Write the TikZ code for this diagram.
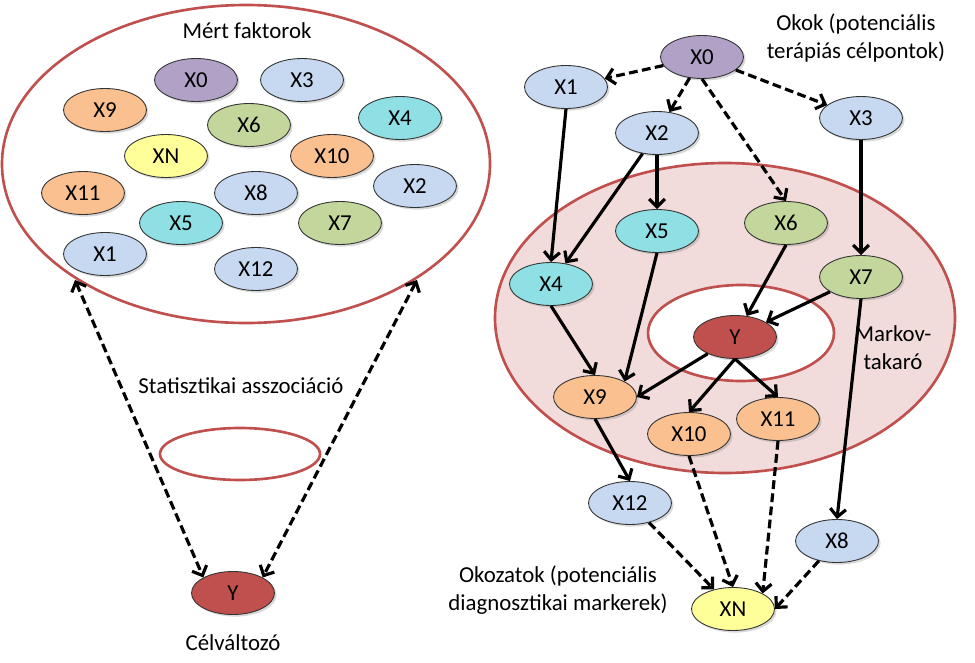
\documentclass[tikz,border=0pt]{standalone}
\usepackage{fontspec}
\setmainfont{Carlito}
\usetikzlibrary{positioning, shapes.geometric, arrows.meta, shadows}

\definecolor{ringred}{HTML}{C0504D}
\definecolor{blanket}{HTML}{F2DCDB}
\definecolor{cpurple}{HTML}{B2A1C7}
\definecolor{cblue}{HTML}{C6D9F1}
\definecolor{corange}{HTML}{FAC090}
\definecolor{cteal}{HTML}{8EE0E4}
\definecolor{cgreen}{HTML}{C3D69B}
\definecolor{cyellow}{HTML}{FFFF99}
\definecolor{cred}{HTML}{C0504D}

\begin{document}
\begin{tikzpicture}[x=0.02cm, y=-0.02cm, ->, >={Straight Barb[length=4.5pt,width=9pt]},
    line width=1.8pt, font=\fontsize{13}{16}\selectfont,
    var/.style={ellipse, draw=black!80, line width=0.5pt, minimum width=1.66cm, minimum height=0.86cm, inner sep=0pt,
        drop shadow={opacity=0.3, shadow xshift=1.2pt, shadow yshift=-1.2pt}},
    root/.style={var, fill=cpurple},
    plain/.style={var, fill=cblue},
    mid/.style={var, fill=cteal},
    fx/.style={var, fill=cgreen},
    eff/.style={var, fill=corange},
    sink/.style={var, fill=cyellow},
    target/.style={var, fill=cred},
    ring/.style={draw=ringred, line width=1.5pt},
    dsh/.style={dash pattern=on 5pt off 2.5pt},
    label/.style={align=center}]
    \useasboundingbox (0,0) rectangle (975,663);

    % Rings
    \draw[ring, -] (246,164) ellipse [x radius=244, y radius=159];
    \draw[ring, -] (240,454) ellipse [x radius=80, y radius=26];
    \draw[ring, -, fill=blanket] (725,318) ellipse [x radius=230, y radius=155];
    \draw[ring, -, fill=white] (741,333) ellipse [x radius=93, y radius=48];

    % Measured factors
    \node[root]   (l0)  at (196,80)  {X0};
    \node[plain]  (l3)  at (302,80)  {X3};
    \node[eff]    (l9)  at (105,110) {X9};
    \node[fx]     (l6)  at (249,125) {X6};
    \node[mid]    (l4)  at (400,118) {X4};
    \node[sink]   (lN)  at (166,156) {XN};
    \node[eff]    (l10) at (332,156) {X10};
    \node[eff]    (l11) at (83,193)  {X11};
    \node[plain]  (l8)  at (256,193) {X8};
    \node[plain]  (l2)  at (415,186) {X2};
    \node[mid]    (l5)  at (181,223) {X5};
    \node[fx]     (l7)  at (340,223) {X7};
    \node[plain]  (l1)  at (105,254) {X1};
    \node[plain]  (l12) at (256,269) {X12};
    \node[target] (Yl)  at (233,593) {Y};
    \coordinate (la) at (75,280);
    \coordinate (lb) at (417,280);

    % Causal graph
    \node[root]   (X0)  at (702,57)  {X0};
    \node[plain]  (X1)  at (566,87)  {X1};
    \node[plain]  (X2)  at (657,133) {X2};
    \node[plain]  (X3)  at (861,118) {X3};
    \node[mid]    (X5)  at (657,231) {X5};
    \node[fx]     (X6)  at (786,223) {X6};
    \node[mid]    (X4)  at (551,284) {X4};
    \node[fx]     (X7)  at (861,277) {X7};
    \node[target] (Y)   at (735,337) {Y};
    \node[eff]    (X9)  at (595,397) {X9};
    \node[eff]    (X10) at (689,434) {X10};
    \node[eff]    (X11) at (778,419) {X11};
    \node[plain]  (X12) at (630,503) {X12};
    \node[plain]  (X8)  at (837,541) {X8};
    \node[sink]   (XN)  at (733,609) {XN};

    % Labels
    \node (mert) at (247,31) {Mért faktorok};
    \node (stat) at (241,386) {Statisztikai asszociáció};
    \node (cel) [below=0.25cm of Yl] {Célváltozó};
    \node[label] (okok) at (856,38) {Okok (potenciális\\terápiás célpontok)};
    \node[label] (okoz) at (558,590) {Okozatok (potenciális\\diagnosztikai markerek)};
    \node[label] (mb) at (893,348) {Markov-\\takaró};

    % Associations
    \path[<->] (la) edge[dsh] (Yl.north west)
               (lb) edge[dsh] (Yl.north east);

    % Causes
    \path (X0) edge[dsh] (X1)
               edge[dsh] (X2)
               edge[dsh] (X3)
          (X0.south) edge[dsh] (X6.north)
          (X1.south) edge (X4.north)
          (X2) edge (X4)
          (X2.south) edge (X5.north)
          (X3.south) edge (X7.north)
          (X4.south) edge (X9.north)
          (X5.south) edge (X9.north east)
          (X6.south) edge (Y)
          (X7) edge (Y)
          (X7.south) edge (X8.north);

    % Effects
    \path (Y) edge (X9.east)
          (Y.south) edge (X10.north)
              edge (X11.north)
          (X9.south) edge (X12.north)
          (X12) edge[dsh] (XN)
          (X10.south) edge[dsh] (XN.north)
          (X11.south) edge[dsh] (XN.north east)
          (X8) edge[dsh] (XN.east);
\end{tikzpicture}
\end{document}
